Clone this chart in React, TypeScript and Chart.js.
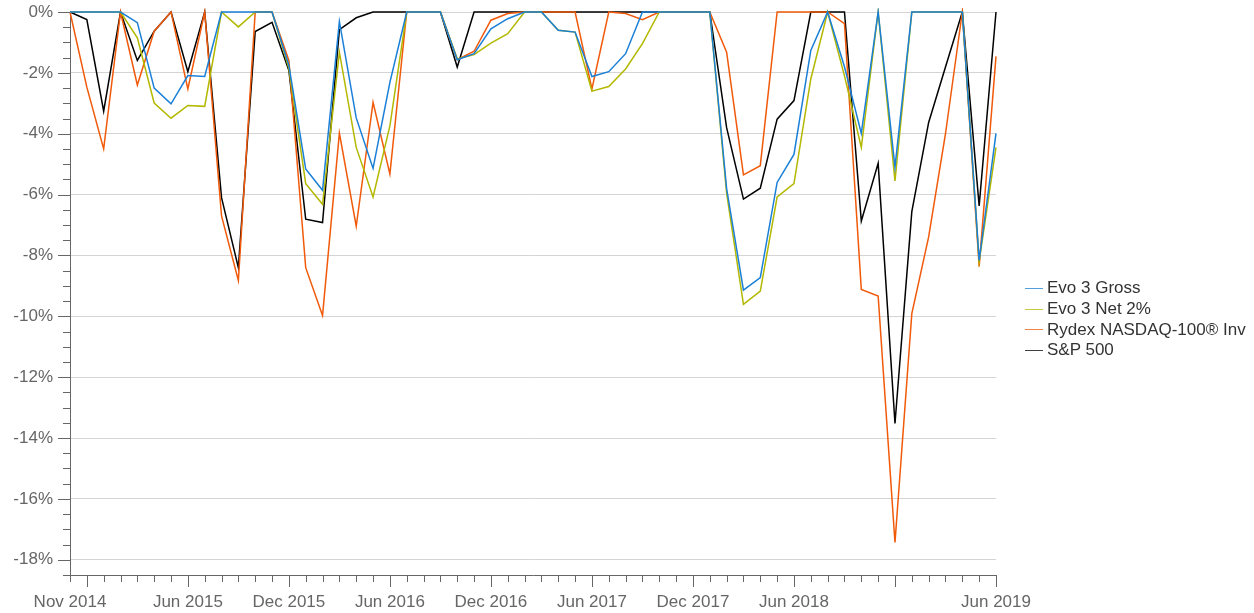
import React, { useEffect, useRef } from 'react';
import { Chart, registerables } from 'chart.js';

Chart.register(...registerables);

const months: string[] = [
  'Nov 2014', 'Dec 2014',
  'Jan 2015', 'Feb 2015', 'Mar 2015', 'Apr 2015', 'May 2015', 'Jun 2015', 'Jul 2015', 'Aug 2015', 'Sep 2015', 'Oct 2015', 'Nov 2015', 'Dec 2015',
  'Jan 2016', 'Feb 2016', 'Mar 2016', 'Apr 2016', 'May 2016', 'Jun 2016', 'Jul 2016', 'Aug 2016', 'Sep 2016', 'Oct 2016', 'Nov 2016', 'Dec 2016',
  'Jan 2017', 'Feb 2017', 'Mar 2017', 'Apr 2017', 'May 2017', 'Jun 2017', 'Jul 2017', 'Aug 2017', 'Sep 2017', 'Oct 2017', 'Nov 2017', 'Dec 2017',
  'Jan 2018', 'Feb 2018', 'Mar 2018', 'Apr 2018', 'May 2018', 'Jun 2018', 'Jul 2018', 'Aug 2018', 'Sep 2018', 'Oct 2018', 'Nov 2018', 'Dec 2018',
  'Jan 2019', 'Feb 2019', 'Mar 2019', 'Apr 2019', 'May 2019', 'Jun 2019',
];

const xTickLabels: string[] = [
  'Nov 2014', 'Jun 2015', 'Dec 2015', 'Jun 2016', 'Dec 2016', 'Jun 2017', 'Dec 2017', 'Jun 2018', 'Jun 2019',
];

const xMajorTicks: string[] = [
  'Dec 2014', 'Jun 2015', 'Dec 2015', 'Jun 2016', 'Dec 2016', 'Jun 2017', 'Dec 2017', 'Jun 2018', 'Dec 2018', 'Jun 2019',
];

const yTicks: number[] = [0, -2, -4, -6, -8, -10, -12, -14, -16, -18];
const yMin = -18.5;
const yMax = 0;

const evoGross: number[] = [
  0, 0, 0, 0, -0.35, -2.5, -3.02, -2.09, -2.12, 0, 0, 0, 0, -1.75,
  -5.16, -5.86, -0.31, -3.48, -5.14, -2.31, 0, 0, 0, -1.57, -1.37, -0.55,
  -0.22, 0, 0, -0.6, -0.66, -2.12, -1.96, -1.37, 0, 0, 0, 0,
  0, -5.8, -9.14, -8.73, -5.6, -4.68, -1.26, 0, -1.8, -3.99, 0, -5.1,
  0, 0, 0, 0, -8.16, -3.99,
];

const evoNet: number[] = [
  0, 0, 0, 0, -0.85, -2.99, -3.49, -3.07, -3.1, 0, -0.49, 0, 0, -1.85,
  -5.64, -6.32, -1.32, -4.45, -6.08, -3.74, 0, 0, 0, -1.54, -1.4, -1.02,
  -0.71, 0, 0, -0.6, -0.66, -2.6, -2.45, -1.87, -1.04, 0, 0, 0,
  0, -5.95, -9.61, -9.17, -6.08, -5.64, -2.2, 0, -2.1, -4.45, 0, -5.55,
  0, 0, 0, 0, -8.2, -4.45,
];

const rydex: number[] = [
  0, -2.47, -4.5, 0, -2.4, -0.63, 0, -2.53, 0, -6.7, -8.82, 0, 0, -1.59,
  -8.4, -9.97, -3.98, -7.04, -2.97, -5.32, 0, 0, 0, -1.57, -1.29, -0.27,
  -0.05, 0, 0, 0, 0, -2.53, 0, -0.05, -0.25, 0, 0, 0,
  0, -1.32, -5.35, -5.05, 0, 0, 0, 0, -0.38, -9.12, -9.33, -17.43,
  -9.91, -7.39, -4.0, 0, -8.36, -1.46,
];

const sp500: number[] = [
  0, -0.25, -3.26, 0, -1.59, -0.63, 0, -1.96, 0, -6.1, -8.4, -0.64, -0.34, -1.92,
  -6.81, -6.92, -0.58, -0.19, 0, 0, 0, 0, 0, -1.81, 0, 0,
  0, 0, 0, 0, 0, 0, 0, 0, 0, 0, 0, 0,
  0, -3.8, -6.15, -5.79, -3.52, -2.91, 0, 0, 0, -6.87, -4.97, -13.52,
  -6.56, -3.63, -1.81, 0, -6.37, 0,
];

const seriesNames: string[] = ['Evo 3 Gross', 'Evo 3 Net 2%', 'Rydex NASDAQ-100® Inv', 'S&P 500'];
const seriesColors: string[] = ['#1a7fd6', '#b3b800', '#f05a0a', '#000000'];
const seriesData: number[][] = [evoGross, evoNet, rydex, sp500];

const FONT = '"Liberation Sans", Arial, Helvetica, sans-serif';

const tickPlugin = {
  id: 'axisTickMarks',
  afterDraw(chart: any) {
    const { ctx } = chart;
    const x = chart.scales.x;
    const y = chart.scales.y;
    ctx.save();
    ctx.strokeStyle = '#666';
    ctx.lineWidth = 1;
    ctx.beginPath();
    months.forEach((m, i) => {
      const px = Math.round(x.getPixelForValue(i)) + 0.5;
      const len = xMajorTicks.includes(m) ? 12 : 7;
      ctx.moveTo(px, y.bottom);
      ctx.lineTo(px, y.bottom + len);
    });
    for (let v = yMax; v >= yMin - 1e-9; v -= 0.5) {
      const py = Math.round(y.getPixelForValue(v)) + 0.5;
      const len = Math.abs(v % 2) < 1e-9 ? 12 : 7;
      ctx.moveTo(x.left, py);
      ctx.lineTo(x.left - len, py);
    }
    ctx.stroke();
    ctx.restore();
  },
};

export default function App() {
  const canvasRef = useRef<HTMLCanvasElement | null>(null);

  useEffect(() => {
    const canvas = canvasRef.current;
    if (!canvas) return;
    const chart = new Chart(canvas, {
      type: 'line',
      data: {
        labels: months,
        datasets: seriesData.map((d, k) => ({
          label: seriesNames[k],
          data: d,
          borderColor: seriesColors[k],
          backgroundColor: seriesColors[k],
          borderWidth: 1.5,
          pointRadius: 0,
          pointHoverRadius: 0,
          tension: 0,
          fill: false,
          clip: 4,
        })),
      },
      options: {
        responsive: false,
        animation: false,
        events: [],
        layout: { padding: { top: 12, right: 258, left: 0, bottom: 0 } },
        plugins: {
          legend: { display: false },
          tooltip: { enabled: false },
        },
        scales: {
          x: {
            type: 'category',
            offset: false,
            afterFit: (scale: any) => { scale.height = 38; scale.paddingLeft = 0; scale.paddingRight = 0; },
            grid: { display: true, drawOnChartArea: false, drawTicks: false },
            border: { display: true, color: '#666', width: 1 },
            ticks: {
              autoSkip: false,
              maxRotation: 0,
              minRotation: 0,
              padding: 17,
              color: '#666',
              font: { family: FONT, size: 17 },
              callback: (_v: any, i: number) => (xTickLabels.includes(months[i]) ? months[i] : ''),
            },
          },
          y: {
            type: 'linear',
            min: yMin,
            max: yMax,
            afterFit: (scale: any) => { scale.width = 70; scale.paddingTop = 0; scale.paddingBottom = 0; },
            afterBuildTicks: (scale: any) => { scale.ticks = yTicks.map((v) => ({ value: v })); },
            grid: { color: '#d4d4d4', lineWidth: 1, drawTicks: false },
            border: { display: true, color: '#666', width: 1 },
            ticks: {
              padding: 17,
              color: '#666',
              font: { family: FONT, size: 17 },
              callback: (v: any) => `${v}%`,
            },
          },
        },
      },
      plugins: [tickPlugin],
    });
    return () => chart.destroy();
  }, []);

  return (
    <div style={{ position: 'absolute', left: 0, top: 0, width: 1254, height: 613, background: '#fff' }}>
      <canvas ref={canvasRef} width={1254} height={613} style={{ display: 'block' }} />
      <div style={{ position: 'absolute', left: 1025, top: 278, fontFamily: FONT, fontSize: 17, color: '#333' }}>
        {seriesNames.map((n, k) => (
          <div key={n} style={{ display: 'flex', alignItems: 'center', height: 20.7, whiteSpace: 'nowrap' }}>
            <span style={{ display: 'inline-block', width: 18, height: 0, borderTop: `1.5px solid ${seriesColors[k]}`, opacity: 0.75, marginRight: 4 }} />
            <span>{n}</span>
          </div>
        ))}
      </div>
    </div>
  );
}
